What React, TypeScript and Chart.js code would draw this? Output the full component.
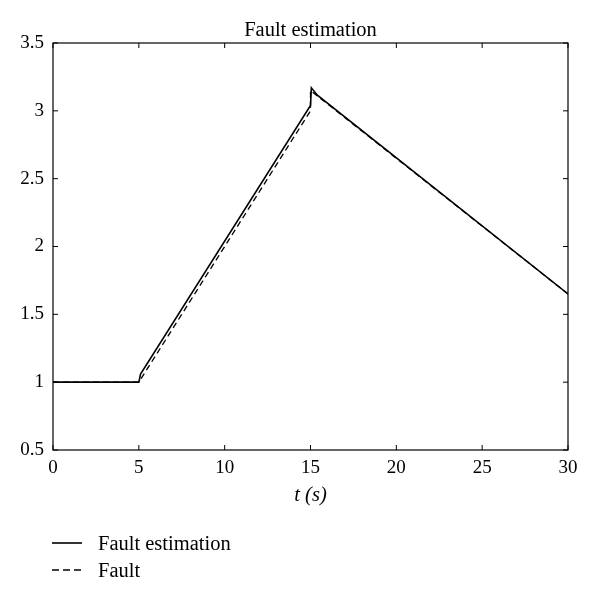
import React, { useEffect, useRef } from "react";
import { Chart, registerables } from "chart.js";

Chart.register(...registerables);

// ---- data ----
const tFault = [0, 5, 15, 15, 30];
const fault = [1, 1, 3, 3.15, 1.65];
const tEst = [0, 5, 5.1, 15, 15.05, 15.4, 30];
const est = [1, 1, 1.06, 3.04, 3.17, 3.115, 1.65];
const xTicks = [0, 5, 10, 15, 20, 25, 30];
const yTicks = [0.5, 1, 1.5, 2, 2.5, 3, 3.5];
const titleText = "Fault estimation";
const xTitle = "t (s)";
const legendLabels = ["Fault estimation", "Fault"];

const FONT = '"Liberation Serif", "DejaVu Serif", serif';

const framePlugin = {
  id: "matlabFrame",
  afterDraw(chart: any) {
    const ctx = chart.ctx;
    const { left, right, top, bottom } = chart.chartArea;
    const xs = chart.scales.x;
    const ys = chart.scales.y;
    ctx.save();
    ctx.strokeStyle = "#000";
    ctx.lineWidth = 1.2;
    ctx.strokeRect(left, top, right - left, bottom - top);
    ctx.lineWidth = 1;
    const tl = 5;
    ctx.beginPath();
    for (const v of xTicks) {
      const px = xs.getPixelForValue(v);
      ctx.moveTo(px, bottom);
      ctx.lineTo(px, bottom - tl);
      ctx.moveTo(px, top);
      ctx.lineTo(px, top + tl);
    }
    for (const v of yTicks) {
      const py = ys.getPixelForValue(v);
      ctx.moveTo(left, py);
      ctx.lineTo(left + tl, py);
      ctx.moveTo(right, py);
      ctx.lineTo(right - tl, py);
    }
    ctx.stroke();
    ctx.fillStyle = "#000";
    ctx.font = `20.5px ${FONT}`;
    ctx.textAlign = "center";
    ctx.textBaseline = "middle";
    ctx.fillText(titleText, (left + right) / 2, 31);
    ctx.restore();
  },
};

export default function App() {
  const ref = useRef<HTMLCanvasElement | null>(null);

  useEffect(() => {
    if (!ref.current) return;
    const chart = new Chart(ref.current, {
      type: "line",
      data: {
        datasets: [
          {
            label: legendLabels[0],
            data: tEst.map((t, i) => ({ x: t, y: est[i] })),
            borderColor: "#000",
            borderWidth: 1.6,
            pointRadius: 0,
            tension: 0,
            fill: false,
          },
          {
            label: legendLabels[1],
            data: tFault.map((t, i) => ({ x: t, y: fault[i] })),
            borderColor: "#000",
            borderWidth: 1.3,
            borderDash: [6, 4],
            pointRadius: 0,
            tension: 0,
            fill: false,
          },
        ],
      },
      options: {
        responsive: false,
        animation: false,
        layout: { padding: { left: 0, right: 32, top: 43, bottom: 93 } },
        plugins: {
          legend: { display: false },
          title: { display: false },
          tooltip: { enabled: false },
        },
        scales: {
          x: {
            type: "linear",
            min: 0,
            max: 30,
            afterBuildTicks: (s: any) => {
              s.ticks = xTicks.map((v) => ({ value: v }));
            },
            afterFit: (s: any) => {
              s.height = 60;
            },
            grid: { display: false, drawTicks: false },
            border: { display: false },
            ticks: {
              color: "#000",
              font: { family: FONT, size: 19 },
              padding: 7,
              maxRotation: 0,
              callback: (v: any) => String(v),
            },
            title: {
              display: true,
              text: xTitle,
              color: "#000",
              font: { family: FONT, size: 20.5, style: "italic" },
              padding: { top: 0, bottom: 2 },
            },
          },
          y: {
            type: "linear",
            min: 0.5,
            max: 3.5,
            afterBuildTicks: (s: any) => {
              s.ticks = yTicks.map((v) => ({ value: v }));
            },
            afterFit: (s: any) => {
              s.width = 53;
            },
            grid: { display: false, drawTicks: false },
            border: { display: false },
            ticks: {
              color: "#000",
              font: { family: FONT, size: 19 },
              padding: 9,
              callback: (v: any) => String(v),
            },
          },
        },
      },
      plugins: [framePlugin],
    } as any);
    return () => chart.destroy();
  }, []);

  const legendRow = (label: string, dashed: boolean, y: number) => (
    <div
      key={label}
      style={{
        position: "absolute",
        left: 52,
        top: y - 12,
        height: 24,
        display: "flex",
        alignItems: "center",
      }}
    >
      <svg width={30} height={4} style={{ display: "block" }}>
        <line
          x1={0}
          y1={2}
          x2={30}
          y2={2}
          stroke="#000"
          strokeWidth={dashed ? 1.4 : 1.6}
          strokeDasharray={dashed ? "7 4" : undefined}
        />
      </svg>
      <span
        style={{
          marginLeft: 16,
          fontFamily: FONT,
          fontSize: 20.5,
          color: "#000",
          lineHeight: "24px",
          whiteSpace: "nowrap",
        }}
      >
        {label}
      </span>
    </div>
  );

  return (
    <div
      style={{
        position: "absolute",
        left: 0,
        top: 0,
        width: 600,
        height: 603,
        background: "#fff",
      }}
    >
      <canvas ref={ref} width={600} height={603} style={{ display: "block" }} />
      {legendRow(legendLabels[0], false, 543)}
      {legendRow(legendLabels[1], true, 570)}
    </div>
  );
}
